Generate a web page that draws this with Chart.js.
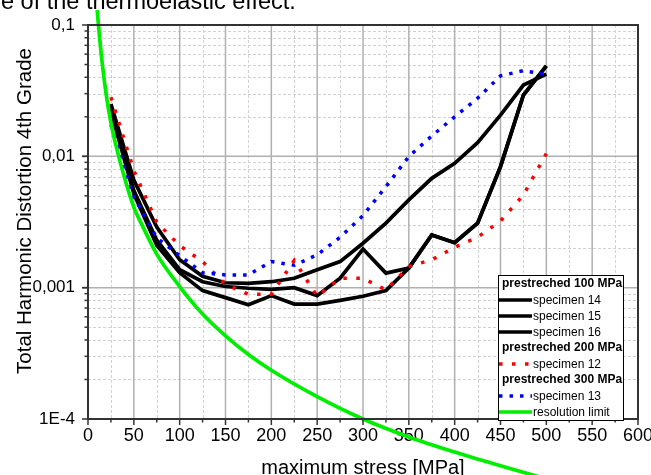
<!DOCTYPE html>
<html>
<head>
<meta charset="utf-8">
<script src="https://cdn.jsdelivr.net/npm/chart.js@4.4.1/dist/chart.umd.min.js"></script>
<style>
  html, body { margin: 0; padding: 0; background: #fff; overflow: hidden; }
  #wrap { position: relative; width: 651px; height: 475px; overflow: hidden; }
  #chart { position: absolute; left: 0; top: 0; }
  #caption { position: absolute; left: 1px; top: -11px; font: 23.5px/24px Arial, "Liberation Sans", sans-serif; color: #000; white-space: nowrap; }
</style>
</head>
<body>
<div id="wrap">
  <canvas id="chart" width="651" height="475"></canvas>
  <div id="caption">e of the thermoelastic effect.</div>
</div>
<script>
// stress levels of the measurements [MPa]
const stress = [25, 50, 75, 100, 125, 150, 175, 200, 225, 250, 275, 300, 325, 350, 375, 400, 425, 450, 475, 500];

// prestreched 100 MPa
const specimen14 = [0.025, 0.0066, 0.0029, 0.00163, 0.00122, 0.00109, 0.00108, 0.00111, 0.00118, 0.00137, 0.00158, 0.00218, 0.0031, 0.00466, 0.0068, 0.00885, 0.0127, 0.0206, 0.0349, 0.0423];
const specimen15 = [0.023, 0.0055, 0.0023, 0.00137, 0.00111, 0.00102, 0.00099, 0.00097, 0.001, 0.00087, 0.00118, 0.00197, 0.00129, 0.00141, 0.00252, 0.0022, 0.0031, 0.00835, 0.0293, 0.0488];
const specimen16 = [0.022, 0.0052, 0.0021, 0.0013, 0.00095, 0.00084, 0.00074, 0.00087, 0.00075, 0.00075, 0.0008, 0.00086, 0.00095, 0.00141, 0.00252, 0.0022, 0.0031, 0.00835, 0.0293, 0.0488];
// prestreched 200 MPa
const specimen12 = [0.0282, 0.0078, 0.00315, 0.00209, 0.00158, 0.00106, 0.00089, 0.00089, 0.00161, 0.00086, 0.00118, 0.00118, 0.00096, 0.00145, 0.00163, 0.00203, 0.00242, 0.00322, 0.00508, 0.0105];
// prestreched 300 MPa
const specimen13 = [0.0173, 0.0049, 0.0024, 0.00175, 0.0013, 0.00125, 0.00125, 0.00158, 0.00148, 0.00178, 0.00242, 0.00354, 0.00588, 0.00996, 0.0143, 0.02, 0.0277, 0.041, 0.0449, 0.042];

// resolution limit
const limitStress = [10, 12, 15, 20, 25, 30, 40, 50, 60, 75, 100, 125, 150, 175, 200, 250, 300, 350, 400, 450, 500];
const limitValues = [0.13, 0.09, 0.055, 0.029, 0.018, 0.0125, 0.0068, 0.0041, 0.0029, 0.0018, 0.00102, 0.00063, 0.00043, 0.00031, 0.000235, 0.000148, 0.0001, 0.000073, 0.000056, 0.000044, 0.000035];

const xTickValues = [0, 50, 100, 150, 200, 250, 300, 350, 400, 450, 500, 550, 600];
const xTickLabels = ['0', '50', '100', '150', '200', '250', '300', '350', '400', '450', '500', '550', '600'];
const yTickValues = [1e-4, 1e-3, 1e-2, 1e-1];
const yTickLabels = ['1E-4', '0,001', '0,01', '0,1'];

const legendRows = [
  { header: 'prestreched 100 MPa' },
  { label: 'specimen 14' },
  { label: 'specimen 15' },
  { label: 'specimen 16' },
  { header: 'prestreched 200 MPa' },
  { label: 'specimen 12' },
  { header: 'prestreched 300 MPa' },
  { label: 'specimen 13' },
  { label: 'resolution limit' }
];

const FONT = 'Arial, "Liberation Sans", sans-serif';
const pts = (xs, ys) => xs.map((x, i) => ({ x: x, y: ys[i] }));

const blackLine = (label, values) => ({
  label: label, data: pts(stress, values),
  borderColor: '#000', borderWidth: 3.7, fill: false
});

// first dataset is drawn on top
const datasets = [
  { label: 'resolution limit', data: pts(limitStress, limitValues), borderColor: '#00ee00', borderWidth: 3.7,
    cubicInterpolationMode: 'monotone', clip: false },
  { label: 'specimen 13', data: pts(stress, specimen13), borderColor: '#0000ff', borderWidth: 3.5, borderDash: [3.5, 7] },
  { label: 'specimen 12', data: pts(stress, specimen12), borderColor: '#ff0000', borderWidth: 3.5, borderDash: [3.5, 9.5] },
  blackLine('specimen 16', specimen16),
  blackLine('specimen 15', specimen15),
  blackLine('specimen 14', specimen14)
];

function seg(ctx, x1, y1, x2, y2) {
  ctx.beginPath(); ctx.moveTo(x1, y1); ctx.lineTo(x2, y2); ctx.stroke();
}

const frame = {
  id: 'frame',
  beforeDatasetsDraw(chart) {
    const { ctx, chartArea: a, scales: { x, y } } = chart;
    ctx.save();
    // minor grid, dashed
    ctx.strokeStyle = '#d2d2d2'; ctx.lineWidth = 1; ctx.setLineDash([3, 2]);
    for (let v = 25; v < 600; v += 50) {
      const px = Math.round(x.getPixelForValue(v)) + 0.5;
      seg(ctx, px, a.top, px, a.bottom);
    }
    for (const d of [1e-4, 1e-3, 1e-2]) {
      for (let k = 2; k <= 9; k++) {
        const py = Math.round(y.getPixelForValue(k * d)) + 0.5;
        seg(ctx, a.left, py, a.right, py);
      }
    }
    // major grid, solid
    ctx.setLineDash([]); ctx.strokeStyle = '#b0b0b0'; ctx.lineWidth = 1.5;
    xTickValues.forEach(v => { const px = x.getPixelForValue(v); seg(ctx, px, a.top, px, a.bottom); });
    yTickValues.forEach(v => { const py = y.getPixelForValue(v); seg(ctx, a.left, py, a.right, py); });
    ctx.restore();
  },
  afterDatasetsDraw(chart) {
    const { ctx, chartArea: a, scales: { x, y } } = chart;
    ctx.save();
    // axis box
    ctx.strokeStyle = '#333'; ctx.lineWidth = 2;
    ctx.strokeRect(a.left, a.top, a.right - a.left, a.bottom - a.top);
    // ticks (outside only, left and bottom)
    ctx.lineWidth = 1.5;
    for (let v = 0; v <= 600; v += 25) {
      const px = x.getPixelForValue(v);
      seg(ctx, px, a.bottom, px, a.bottom + (v % 50 === 0 ? 6 : 3.5));
    }
    for (const d of [1e-4, 1e-3, 1e-2]) {
      for (let k = 1; k <= 10; k++) {
        const py = y.getPixelForValue(k * d);
        seg(ctx, a.left, py, a.left - (k === 1 || k === 10 ? 6 : 3.5), py);
      }
    }

    // legend
    const lx = 498.5, ly = 275.5, lw = 125, lh = 145, rowH = 16;
    ctx.fillStyle = '#fff'; ctx.fillRect(lx, ly, lw, lh);
    ctx.strokeStyle = '#000'; ctx.lineWidth = 1; ctx.strokeRect(lx, ly, lw, lh);
    ctx.textBaseline = 'middle'; ctx.textAlign = 'left'; ctx.fillStyle = '#000';
    legendRows.forEach((row, i) => {
      const cy = 284 + i * rowH;
      if (row.header) {
        ctx.font = 'bold 12px ' + FONT;
        ctx.fillText(row.header, 502, cy);
        return;
      }
      const ds = chart.data.datasets.find(d => d.label === row.label);
      ctx.strokeStyle = ds.borderColor; ctx.lineWidth = ds.borderWidth;
      ctx.setLineDash(ds.borderDash || []); ctx.lineCap = 'butt';
      seg(ctx, 499, cy, 532, cy);
      ctx.setLineDash([]);
      ctx.font = '12px ' + FONT;
      ctx.fillText(row.label, 533, cy + 1);
    });

    // axis titles
    ctx.fillStyle = '#000';
    ctx.font = '20px ' + FONT;
    ctx.textAlign = 'center'; ctx.textBaseline = 'alphabetic';
    ctx.fillText('maximum stress [MPa]', (a.left + a.right) / 2, 474);
    ctx.font = '20.5px ' + FONT;
    ctx.translate(30.5, 211);
    ctx.rotate(-Math.PI / 2);
    ctx.fillText('Total Harmonic Distortion 4th Grade', 0, 0);
    ctx.restore();
  }
};

new Chart(document.getElementById('chart'), {
  type: 'line',
  data: { datasets: datasets },
  options: {
    responsive: false,
    animation: false,
    layout: { padding: { top: 25, right: 13, left: 0, bottom: 0 } },
    plugins: { legend: { display: false }, tooltip: { enabled: false } },
    elements: {
      point: { radius: 0, hoverRadius: 0 },
      line: { tension: 0, borderCapStyle: 'butt', fill: false }
    },
    scales: {
      x: {
        type: 'linear', min: 0, max: 600,
        grid: { display: false, drawTicks: false }, border: { display: false },
        afterBuildTicks: s => { s.ticks = xTickValues.map(v => ({ value: v })); },
        afterFit: s => { s.height = 56; s.paddingLeft = 0; s.paddingRight = 0; },
        ticks: {
          autoSkip: false, maxRotation: 0, padding: 6, color: '#000',
          font: { family: FONT, size: 18 },
          callback: (v, i) => xTickLabels[i]
        }
      },
      y: {
        type: 'logarithmic', min: 1e-4, max: 0.1,
        grid: { display: false, drawTicks: false }, border: { display: false },
        afterBuildTicks: s => { s.ticks = yTickValues.map(v => ({ value: v })); },
        afterFit: s => { s.width = 88; s.paddingTop = 0; s.paddingBottom = 0; },
        ticks: {
          autoSkip: false, padding: 13, color: '#000',
          font: { family: FONT, size: 17 },
          callback: (v, i) => yTickLabels[i]
        }
      }
    }
  },
  plugins: [frame]
});
</script>
</body>
</html>
